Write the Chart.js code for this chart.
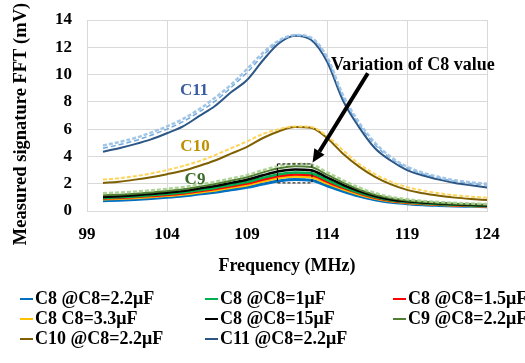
<!DOCTYPE html>
<html>
<head>
<meta charset="utf-8">
<script src="https://cdn.jsdelivr.net/npm/chart.js@4.4.1/dist/chart.umd.min.js"></script>
<style>
  html, body { margin: 0; padding: 0; background: #fff; }
  #wrap { position: relative; width: 525px; height: 363px; overflow: hidden; }
  #box { position: absolute; left: 0; top: 0; width: 525px; height: 285px; }
  #legend { position: absolute; left: 0; top: 0; width: 525px; height: 363px; pointer-events: none; }
  .item { position: absolute; white-space: nowrap; font: bold 18px 'Liberation Serif', 'Times New Roman', serif; line-height: 20px; color: #000; }
  .mark { display: inline-block; width: 13px; height: 2.5px; vertical-align: middle; margin-right: 2px; position: relative; top: -1px; }
</style>
</head>
<body>
<div id="wrap">
  <div id="box"><canvas id="chart"></canvas></div>
  <div id="legend"></div>
</div>
<script>
// frequency (MHz)
const freq = [100, 101, 102, 103, 104, 105, 106, 107, 108, 109, 110, 111, 112,
  113, 114, 115, 116, 117, 118, 119, 120, 121, 122, 123, 124]

// measured FFT (mV)
const c8_2u2 = [0.75, 0.79, 0.85, 0.92, 1.00, 1.10, 1.24, 1.38, 1.56, 1.73, 1.98, 2.20, 2.30,
  2.25, 1.85, 1.45, 1.10, 0.83, 0.64, 0.54, 0.46, 0.41, 0.37, 0.34, 0.31]
const c8_1u = [0.96, 1.01, 1.07, 1.15, 1.24, 1.35, 1.52, 1.69, 1.91, 2.12, 2.43, 2.69, 2.82,
  2.76, 2.27, 1.78, 1.35, 1.02, 0.79, 0.66, 0.57, 0.50, 0.45, 0.41, 0.38]
const c8_1u5 = [0.91, 0.96, 1.02, 1.10, 1.18, 1.29, 1.45, 1.61, 1.81, 2.01, 2.30, 2.56, 2.68,
  2.63, 2.15, 1.69, 1.29, 0.96, 0.75, 0.62, 0.54, 0.48, 0.43, 0.39, 0.36]
const c8_3u3 = [0.86, 0.90, 0.96, 1.03, 1.11, 1.21, 1.36, 1.51, 1.71, 1.89, 2.17, 2.41, 2.52,
  2.47, 2.03, 1.59, 1.21, 0.91, 0.71, 0.59, 0.51, 0.45, 0.40, 0.37, 0.34]
const c8_15u = [1.03, 1.09, 1.16, 1.25, 1.34, 1.46, 1.65, 1.83, 2.06, 2.29, 2.62, 2.91, 3.05,
  2.99, 2.46, 1.92, 1.46, 1.10, 0.85, 0.71, 0.62, 0.55, 0.49, 0.45, 0.41]
const c9 = [1.15, 1.20, 1.27, 1.36, 1.46, 1.59, 1.78, 1.98, 2.22, 2.47, 2.83, 3.13, 3.28,
  3.22, 2.66, 2.08, 1.58, 1.19, 0.93, 0.77, 0.67, 0.59, 0.53, 0.49, 0.45]
const c10 = [2.05, 2.15, 2.30, 2.48, 2.70, 2.95, 3.30, 3.70, 4.20, 4.70, 5.35, 5.85, 6.15,
  6.10, 5.35, 4.20, 3.25, 2.50, 1.95, 1.55, 1.30, 1.12, 0.98, 0.88, 0.80]
const c11 = [4.35, 4.60, 4.90, 5.25, 5.70, 6.20, 6.95, 7.70, 8.70, 9.60, 11.05, 12.30, 12.85,
  12.55, 10.95, 8.10, 6.15, 4.60, 3.68, 3.00, 2.60, 2.30, 2.05, 1.88, 1.73]

// other C8 values for C9..C11 (dashed, not in legend)
const c9_alt = [1.30, 1.35, 1.42, 1.51, 1.62, 1.75, 1.94, 2.14, 2.38, 2.63, 2.99, 3.30, 3.45,
  3.40, 2.84, 2.25, 1.72, 1.32, 1.03, 0.86, 0.74, 0.66, 0.60, 0.55, 0.51]
const c10_alt = [2.30, 2.40, 2.55, 2.75, 3.00, 3.30, 3.65, 4.10, 4.60, 5.10, 5.65, 6.00, 6.20,
  6.15, 5.50, 4.45, 3.45, 2.70, 2.15, 1.75, 1.50, 1.30, 1.15, 1.05, 0.98]
const c11_alt1 = [4.80, 5.05, 5.35, 5.75, 6.20, 6.75, 7.45, 8.30, 9.25, 10.40, 11.60, 12.50, 12.90,
  12.70, 11.30, 8.50, 6.50, 5.00, 3.95, 3.25, 2.80, 2.50, 2.25, 2.10, 2.00]
const c11_alt2 = [4.60, 4.85, 5.15, 5.55, 6.00, 6.55, 7.25, 8.05, 9.05, 10.15, 11.40, 12.40, 12.88,
  12.65, 11.15, 8.30, 6.35, 4.85, 3.85, 3.15, 2.72, 2.42, 2.18, 2.02, 1.90]

const labels = ["C8 @C8=2.2μF", "C8 @C8=1μF", "C8 @C8=1.5μF", "C8 C8=3.3μF",
  "C8 @C8=15μF", "C9 @C8=2.2μF", "C10 @C8=2.2μF", "C11 @C8=2.2μF"]

const xTicks = [99, 104, 109, 114, 119, 124]
const yTicks = [0, 2, 4, 6, 8, 10, 12, 14]

const serif = "'Liberation Serif', 'Times New Roman', serif"

function pts(arr) {
  return freq.map((f, i) => ({ x: f, y: arr[i] }))
}

function line(label, arr, color, width, dash) {
  return {
    label: label,
    data: pts(arr),
    borderColor: color,
    backgroundColor: color,
    borderWidth: width,
    borderDash: dash || [],
    pointRadius: 0,
    fill: false,
    cubicInterpolationMode: "monotone"
  }
}

const datasets = [
  line("c11b", c11_alt1, "rgba(157,195,230,0.95)", 2.5, [4, 2]),
  line("c11c", c11_alt2, "rgba(91,155,213,0.85)", 1.5, [5, 3]),
  line("c10b", c10_alt, "rgba(255,210,80,0.95)", 2, [4, 2]),
  line("c9b", c9_alt, "rgba(169,209,142,0.95)", 2.5, [4, 2]),
  line(labels[7], c11, "#2B5686", 2),
  line(labels[6], c10, "#7F6000", 2),
  line(labels[5], c9, "#507E32", 2),
  line(labels[4], c8_15u, "#000000", 2.5),
  line(labels[1], c8_1u, "#00B050", 2.5),
  line(labels[2], c8_1u5, "#FF0000", 2.5),
  line(labels[3], c8_3u3, "#FFC000", 2.5),
  line(labels[0], c8_2u2, "#0070C0", 3)
]

// annotations in data coordinates
const notes = [
  { text: "C11", x: 105.7, y: 8.8, color: "#3B5DA0" },
  { text: "C10", x: 105.75, y: 4.75, color: "#BF9000" },
  { text: "C9", x: 105.75, y: 2.27, color: "#3D6B2B" }
]
const arrowFrom = [116.55, 10.1]
const arrowTo = [113.1, 3.55]
const boxX = [110.9, 113.06]
const boxY = [2.06, 3.45]

const annot = {
  id: "annot",
  afterDatasetsDraw(chart) {
    const ctx = chart.ctx
    const x = chart.scales.x
    const y = chart.scales.y
    ctx.save()
    ctx.textAlign = "center"
    ctx.textBaseline = "middle"
    ctx.font = "bold 17px " + serif
    notes.forEach(n => {
      ctx.fillStyle = n.color
      ctx.fillText(n.text, x.getPixelForValue(n.x), y.getPixelForValue(n.y))
    })

    ctx.font = "bold 18px " + serif
    ctx.fillStyle = "#000"
    ctx.textAlign = "left"
    ctx.fillText("Variation of C8 value", x.getPixelForValue(114.25), y.getPixelForValue(10.7))

    // dashed box
    ctx.strokeStyle = "#000"
    ctx.lineWidth = 1
    ctx.setLineDash([3, 2])
    let bx0 = x.getPixelForValue(boxX[0]), bx1 = x.getPixelForValue(boxX[1])
    let by0 = y.getPixelForValue(boxY[1]), by1 = y.getPixelForValue(boxY[0])
    ctx.strokeRect(bx0, by0, bx1 - bx0, by1 - by0)
    ctx.setLineDash([])

    // arrow
    let x0 = x.getPixelForValue(arrowFrom[0]), y0 = y.getPixelForValue(arrowFrom[1])
    let x1 = x.getPixelForValue(arrowTo[0]), y1 = y.getPixelForValue(arrowTo[1])
    let ang = Math.atan2(y1 - y0, x1 - x0)
    let head = 13
    let hx = x1 - head * Math.cos(ang), hy = y1 - head * Math.sin(ang)
    ctx.lineWidth = 4
    ctx.beginPath()
    ctx.moveTo(x0, y0)
    ctx.lineTo(hx, hy)
    ctx.stroke()
    ctx.beginPath()
    ctx.moveTo(x1, y1)
    ctx.lineTo(hx + 6 * Math.sin(ang), hy - 6 * Math.cos(ang))
    ctx.lineTo(hx - 6 * Math.sin(ang), hy + 6 * Math.cos(ang))
    ctx.closePath()
    ctx.fill()

    // y axis title, sits a bit below the plot centre like the original
    ctx.translate(21, 124)
    ctx.rotate(-Math.PI / 2)
    ctx.textAlign = "center"
    ctx.font = "bold 18.5px " + serif
    ctx.fillText("Measured signature FFT (mV)", 0, 0)
    ctx.restore()
  }
}

const chart = new Chart(document.getElementById("chart"), {
  type: "line",
  data: { datasets: datasets },
  plugins: [annot],
  options: {
    animation: false,
    responsive: true,
    maintainAspectRatio: false,
    layout: { padding: { top: 20, right: 38, bottom: 0, left: 0 } },
    plugins: {
      legend: { display: false },
      tooltip: { enabled: false }
    },
    scales: {
      x: {
        type: "linear",
        min: 99,
        max: 124,
        afterBuildTicks: s => { s.ticks = xTicks.map(v => ({ value: v })) },
        afterFit: s => { s.height = 74 },
        grid: { color: "#D9D9D9", drawTicks: false },
        border: { color: "#D9D9D9" },
        ticks: {
          color: "#000",
          padding: 13,
          maxRotation: 0,
          font: { family: serif, size: 17, weight: "bold" }
        },
        title: {
          display: true,
          text: "Frequency (MHz)",
          color: "#000",
          padding: { top: 0, bottom: 8 },
          font: { family: serif, size: 18, weight: "bold" }
        }
      },
      y: {
        min: 0,
        max: 14,
        afterBuildTicks: s => { s.ticks = yTicks.map(v => ({ value: v })) },
        afterFit: s => {
          s.width = 87
          s.paddingTop = 0
          s.paddingBottom = 0
        },
        grid: { color: "#D9D9D9", drawTicks: false },
        border: { color: "#D9D9D9" },
        ticks: {
          color: "#000",
          padding: 15,
          font: { family: serif, size: 17, weight: "bold" }
        }
      }
    }
  }
})

// legend, 3 columns, from the named datasets
const colX = [20, 205, 393]
const rowY = [288, 308, 328]
const legendEl = document.getElementById("legend")
labels.forEach((lab, i) => {
  const ds = chart.data.datasets.find(d => d.label === lab)
  const div = document.createElement("div")
  div.className = "item"
  div.style.left = colX[i % 3] + "px"
  div.style.top = rowY[Math.floor(i / 3)] + "px"
  const mark = document.createElement("span")
  mark.className = "mark"
  mark.style.background = ds.borderColor
  div.appendChild(mark)
  div.appendChild(document.createTextNode(lab))
  legendEl.appendChild(div)
})
</script>
</body>
</html>
